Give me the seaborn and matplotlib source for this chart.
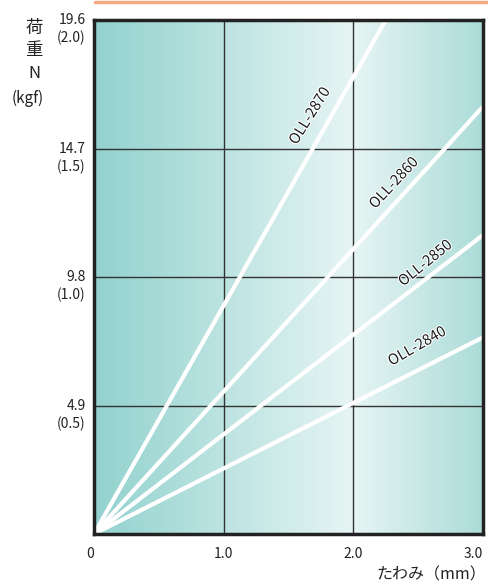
import matplotlib
matplotlib.use("Agg")
import matplotlib.pyplot as plt
import matplotlib.patheffects as pe
import matplotlib.transforms as mtransforms
from matplotlib.colors import LinearSegmentedColormap
from matplotlib.lines import Line2D
import numpy as np
import pandas as pd
import seaborn as sns

# ---- data ----
series = ["OLL-2870", "OLL-2860", "OLL-2850", "OLL-2840"]
end_deflection = [2.25, 3.0, 3.0, 3.0]      # mm
end_load = [19.6, 16.3, 11.4, 7.5]          # N
label_x = [1.667, 2.315, 2.557, 2.494]
label_y = [15.94, 13.38, 10.32, 7.15]
label_rot = [58, 47, 39, 30]

x_ticks = [0, 1.0, 2.0, 3.0]
x_ticklabels = ["0", "1.0", "2.0", "3.0"]
y_ticks = [4.9, 9.8, 14.7, 19.6]
y_ticklabels_n = ["4.9", "9.8", "14.7", "19.6"]
y_ticklabels_kgf = ["(0.5)", "(1.0)", "(1.5)", "(2.0)"]

rows = []
for s, xe, ye in zip(series, end_deflection, end_load):
    rows.append({"series": s, "x": 0.0, "y": 0.0})
    rows.append({"series": s, "x": xe, "y": ye})
df = pd.DataFrame(rows)

sns.set_theme(style="white")
plt.rcParams['font.family'] = ['Noto Sans CJK JP', 'DejaVu Sans']

W, H = 489, 583
fig = plt.figure(figsize=(W / 100, H / 100), dpi=100)
ax = fig.add_axes([94 / W, (H - 534) / H, (483 - 94) / W, (534 - 20) / H])

ax.set_xlim(0, 3.0)
ax.set_ylim(0, 19.6)

# gradient background
cmap = LinearSegmentedColormap.from_list(
    "bg", [(0.0, "#92d2ce"), (0.667, "#e6f5f4"), (1.0, "#acdcd8")])
grad = np.linspace(0, 1, 512).reshape(1, -1)
ax.imshow(grad, extent=[0, 3.0, 0, 19.6], aspect="auto", cmap=cmap,
          zorder=0, origin="lower")

# grid
for xv in x_ticks[1:-1]:
    ax.axvline(xv, color="#333333", lw=1.0, zorder=1)
for yv in y_ticks[:-1]:
    ax.axhline(yv, color="#333333", lw=1.0, zorder=1)

sns.lineplot(data=df, x="x", y="y", hue="series", palette=["white"] * 4,
             legend=False, lw=3.0, ax=ax, zorder=3, estimator=None,
             sort=False)

for s, lx, ly, r in zip(series, label_x, label_y, label_rot):
    ax.text(lx, ly, s, rotation=r, rotation_mode="anchor", ha="center",
            va="center", fontsize=10.5, color="#1a1a1a", zorder=4,
            path_effects=[pe.withStroke(linewidth=1.6, foreground="white")])

for sp in ax.spines.values():
    sp.set_color("#222222")
    sp.set_linewidth(2.5)
    sp.set_zorder(5)

ax.set_xlabel("")
ax.set_ylabel("")
ax.set_xticks(x_ticks)
ax.set_xticklabels(x_ticklabels, fontsize=10, color="#222222")
ax.tick_params(axis="x", length=0, pad=9)
ax.get_xticklabels()[0].set_ha("right")
ax.get_xticklabels()[-1].set_ha("right")
ax.set_yticks([])

trans = mtransforms.blended_transform_factory(ax.transAxes, ax.transData)
for yv, l1, l2 in zip(y_ticks, y_ticklabels_n, y_ticklabels_kgf):
    ax.annotate(l1, xy=(0, yv), xycoords=trans, xytext=(-6, 0),
                textcoords="offset points", ha="right", va="center",
                fontsize=10, color="#222222", annotation_clip=False)
    ax.annotate(l2, xy=(0, yv), xycoords=trans, xytext=(-6, -13),
                textcoords="offset points", ha="right", va="center",
                fontsize=10, color="#222222", annotation_clip=False)

# y-axis title (stacked)
fig.text(34 / W, 1 - 28 / H, "荷", ha="center", va="center", fontsize=12.5, color="#222222")
fig.text(34 / W, 1 - 50 / H, "重", ha="center", va="center", fontsize=12.5, color="#222222")
fig.text(34 / W, 1 - 73 / H, "N", ha="center", va="center", fontsize=12, color="#222222")
fig.text(28 / W, 1 - 98 / H, "(kgf)", ha="center", va="center", fontsize=11, color="#222222")

# x-axis title
fig.text(486 / W, 1 - 575 / H, "たわみ（mm）", ha="right", va="center",
         fontsize=11.5, color="#222222")

# top orange rule
fig.add_artist(Line2D([95 / W, 1.0], [1 - 1.5 / H, 1 - 1.5 / H],
                      transform=fig.transFigure, color="#f4a87e", lw=2.5))

fig.savefig("out.png", dpi=100)
